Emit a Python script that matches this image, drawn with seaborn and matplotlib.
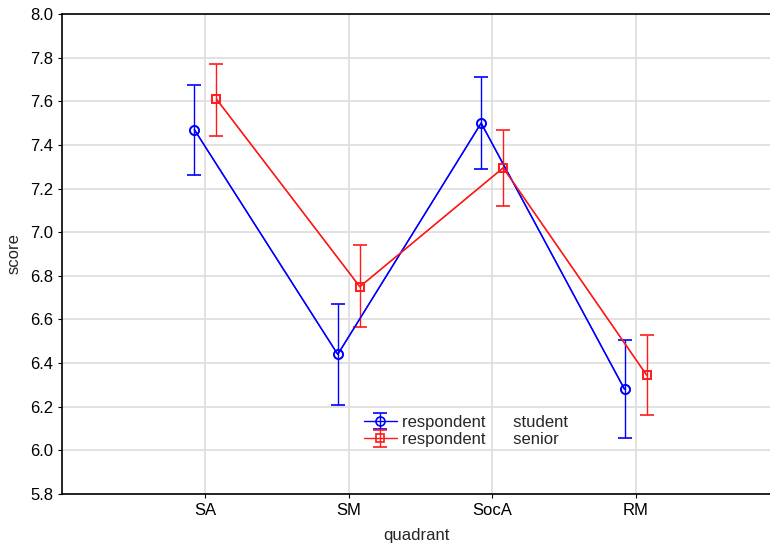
import numpy as np
import pandas as pd
import matplotlib
matplotlib.use("Agg")
import matplotlib.pyplot as plt
import seaborn as sns

quadrants = ["SA", "SM", "SocA", "RM"]
student_mean = [7.47, 6.44, 7.50, 6.28]
student_low = [7.26, 6.21, 7.29, 6.055]
student_high = [7.675, 6.67, 7.71, 6.505]
senior_mean = [7.61, 6.75, 7.295, 6.345]
senior_low = [7.44, 6.565, 7.12, 6.16]
senior_high = [7.77, 6.94, 7.47, 6.53]
yticks = [5.8, 6.0, 6.2, 6.4, 6.6, 6.8, 7.0, 7.2, 7.4, 7.6, 7.8, 8.0]

sns.set_style("white")
plt.rcParams["font.family"] = ["Liberation Sans", "DejaVu Sans"]

fig = plt.figure(figsize=(7.7, 5.45), dpi=100)
ax = fig.add_axes([62/770, 51/545, 1 - 62/770, 480/545])

off = 0.077
x = np.arange(len(quadrants))
groups = [
    ("student", student_mean, student_low, student_high, -off, "#0000ff", "o", 6.5),
    ("senior", senior_mean, senior_low, senior_high, off, "#ff1a1a", "s", 6.0),
]
handles = []
for name, m, lo, hi, dx, col, mk, ms in groups:
    df = pd.DataFrame({"x": x + dx, "y": m})
    sns.lineplot(data=df, x="x", y="y", ax=ax, color=col, lw=1.0,
                 marker=mk, markersize=ms, markerfacecolor="none",
                 markeredgecolor=col, markeredgewidth=1.2, legend=False)
    m = np.array(m); lo = np.array(lo); hi = np.array(hi)
    h = ax.errorbar(x + dx, m, yerr=[m - lo, hi - m], fmt=mk, color=col,
                    ms=ms, mfc="none", mec=col, mew=1.2, ecolor=col,
                    elinewidth=1.0, capsize=5, capthick=1.0, ls="-", lw=1.0)
    handles.append((h, "respondent      " + name))

ax.set_xlim(-1, (770 - 205) / 143.5)
ax.set_ylim(5.8, 8.0)
ax.set_xticks(x)
ax.set_xticklabels(quadrants)
ax.set_yticks(yticks)
ax.set_yticklabels([f"{v:.1f}" for v in yticks])
ax.grid(True, color="#dddddd", lw=1.2)
ax.set_axisbelow(True)
for s in ["left", "top", "bottom"]:
    ax.spines[s].set_color("black")
    ax.spines[s].set_linewidth(1.2)
ax.spines["right"].set_visible(False)
ax.tick_params(axis="both", direction="out", length=3, width=0.8, colors="black",
               labelsize=12, left=True, bottom=True)
ax.set_xlabel("quadrant", fontsize=12, labelpad=7)
ax.set_ylabel("score", fontsize=12, labelpad=6)

fig.legend([h for h, _ in handles], [l for _, l in handles],
           loc="upper left", bbox_to_anchor=(357/770, 1 - 408/545),
           frameon=False, fontsize=12, handlelength=2.0, labelspacing=0.15,
           handletextpad=0.3, borderaxespad=0)

fig.savefig("out.png", dpi=100)
